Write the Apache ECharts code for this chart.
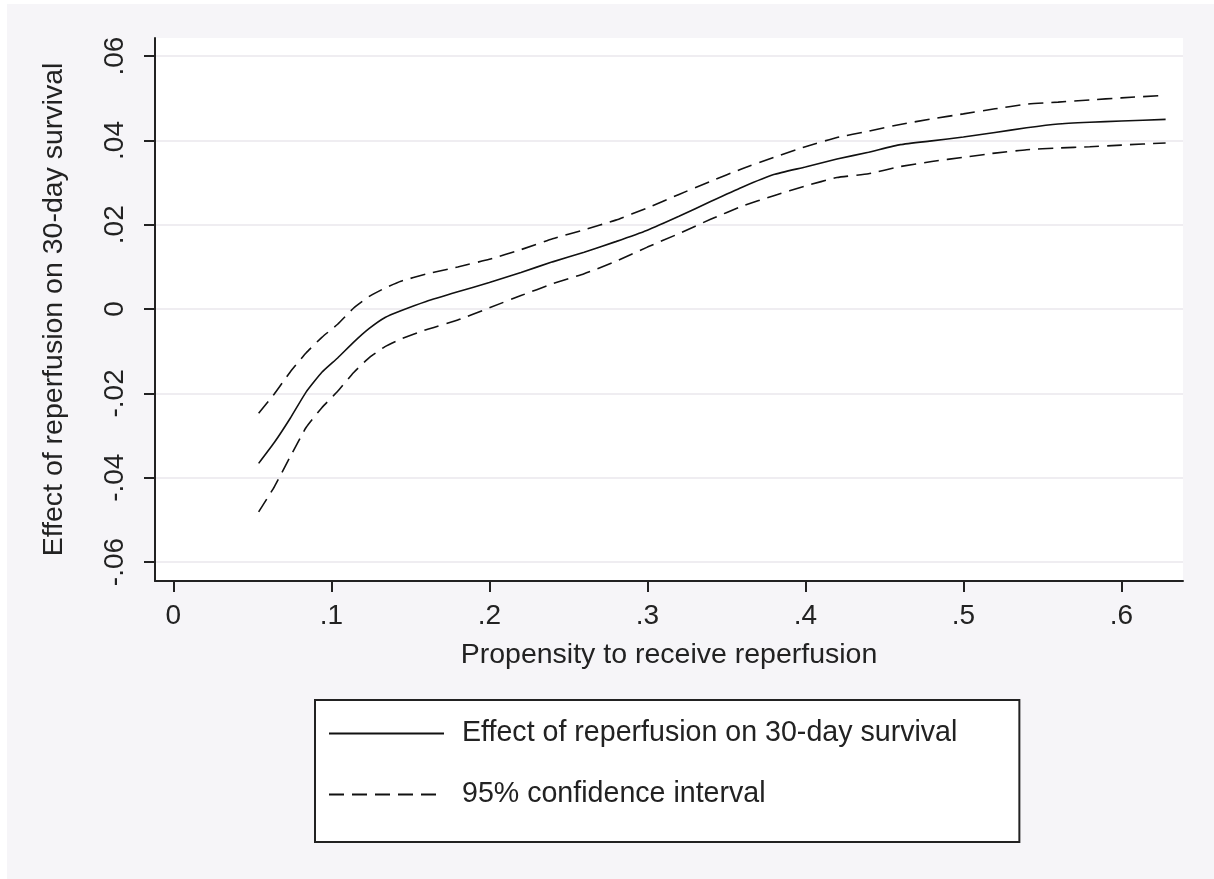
<!DOCTYPE html>
<html>
<head>
<meta charset="utf-8">
<script src="https://cdn.jsdelivr.net/npm/echarts@6/dist/echarts.min.js"></script>
<style>
html,body{margin:0;padding:0;background:#ffffff;}
#chart{width:1214px;height:879px;}
</style>
</head>
<body>
<div id="chart"></div>
<script>
// Propensity to receive reperfusion (x)
const xValues = [0.054, 0.064, 0.074, 0.084, 0.094, 0.104, 0.114, 0.124, 0.134, 0.144,
  0.16, 0.18, 0.2, 0.22, 0.24, 0.26, 0.28, 0.3, 0.32, 0.34, 0.36, 0.38, 0.4,
  0.42, 0.44, 0.46, 0.48, 0.5, 0.52, 0.54, 0.56, 0.58, 0.6, 0.628];
// Effect estimate
const effect = [-0.0366, -0.0316, -0.0259, -0.0197, -0.0150, -0.0116, -0.0079, -0.0046, -0.0020, -0.0004,
  0.0018, 0.0041, 0.0063, 0.0087, 0.0112, 0.0135, 0.0160, 0.0187, 0.0220, 0.0255, 0.0289, 0.0319, 0.0337,
  0.0356, 0.0372, 0.0390, 0.0399, 0.0408, 0.0419, 0.0430, 0.0439, 0.0443, 0.0446, 0.0450];
// Upper 95% CI
const upperCI = [-0.0247, -0.0201, -0.0149, -0.0104, -0.0067, -0.0036, 0.0002, 0.0030, 0.0050, 0.0066,
  0.0083, 0.0100, 0.0118, 0.0141, 0.0167, 0.0188, 0.0211, 0.0240, 0.0272, 0.0303, 0.0333, 0.0360, 0.0385,
  0.0407, 0.0422, 0.0438, 0.0451, 0.0463, 0.0475, 0.0486, 0.0491, 0.0496, 0.0501, 0.0507];
// Lower 95% CI
const lowerCI = [-0.0481, -0.0421, -0.0350, -0.0281, -0.0234, -0.0195, -0.0151, -0.0115, -0.0089, -0.0071,
  -0.0049, -0.0026, 0.0003, 0.0032, 0.0060, 0.0084, 0.0113, 0.0147, 0.0179, 0.0213, 0.0244, 0.0269, 0.0292,
  0.0312, 0.0321, 0.0338, 0.0350, 0.0360, 0.0370, 0.0378, 0.0382, 0.0385, 0.0389, 0.0394];

const xTicks = [0, 0.1, 0.2, 0.3, 0.4, 0.5, 0.6];
const xTickLabels = ['0', '.1', '.2', '.3', '.4', '.5', '.6'];
const yTicks = [-0.06, -0.04, -0.02, 0, 0.02, 0.04, 0.06];
const yTickLabels = ['-.06', '-.04', '-.02', '0', '.02', '.04', '.06'];

const xTitle = 'Propensity to receive reperfusion';
const yTitle = 'Effect of reperfusion on 30-day survival';
const nameEffect = 'Effect of reperfusion on 30-day survival';
const nameCI = '95% confidence interval';

function pairs(xs, ys) { return xs.map((x, i) => [x, ys[i]]); }
function labelFor(ticks, labels) {
  return v => {
    for (let i = 0; i < ticks.length; i++) {
      if (Math.abs(ticks[i] - v) < 1e-9) return labels[i];
    }
    return '';
  };
}

const FONT = 'Liberation Sans, Arial, sans-serif';
const TXT = '#222222';
const AX = '#222222';
const LINE = '#111111';

const chart = echarts.init(document.getElementById('chart'), null, {renderer: 'canvas'});
chart.setOption({
  animation: false,
  backgroundColor: '#ffffff',
  graphic: [{
    type: 'rect', z: -100, silent: true,
    shape: {x: 7, y: 4, width: 1207, height: 875},
    style: {fill: '#f6f5f8'}
  }],
  grid: {
    left: 155, right: 31, top: 38, bottom: 298,
    show: true, backgroundColor: '#ffffff', borderWidth: 0
  },
  xAxis: {
    type: 'value',
    min: -0.0116, max: 0.639,
    name: xTitle,
    nameLocation: 'middle',
    nameGap: 60,
    nameTextStyle: {fontFamily: FONT, fontSize: 28.5, color: TXT},
    axisLine: {show: true, onZero: false, lineStyle: {color: AX, width: 2}},
    axisTick: {show: true, length: 11, lineStyle: {color: AX, width: 2}, customValues: xTicks},
    axisLabel: {
      show: true, customValues: xTicks,
      formatter: labelFor(xTicks, xTickLabels),
      fontFamily: FONT, fontSize: 28, color: TXT, margin: 21
    },
    splitLine: {show: false}
  },
  yAxis: {
    type: 'value',
    min: -0.0645, max: 0.0643,
    name: yTitle,
    nameLocation: 'middle',
    nameGap: 86,
    nameTextStyle: {fontFamily: FONT, fontSize: 28.5, color: TXT},
    axisLine: {show: true, onZero: false, lineStyle: {color: AX, width: 2}},
    axisTick: {show: true, length: 11, lineStyle: {color: AX, width: 2}, customValues: yTicks},
    axisLabel: {
      show: true, customValues: yTicks, rotate: 90,
      formatter: labelFor(yTicks, yTickLabels),
      fontFamily: FONT, fontSize: 28, color: TXT, margin: 26
    },
    splitLine: {show: true, lineStyle: {color: '#efedf1', width: 2}}
  },
  legend: {
    orient: 'vertical',
    left: 315, top: 700,
    padding: [19, 62, 33, 13],
    itemWidth: 115, itemHeight: 28, itemGap: 32,
    borderColor: '#222222', borderWidth: 2,
    backgroundColor: '#ffffff',
    itemStyle: {color: 'rgba(0,0,0,0)', borderColor: 'rgba(0,0,0,0)', borderWidth: 0},
    textStyle: {fontFamily: FONT, fontSize: 28.6, color: TXT, lineHeight: 28, padding: [0, 0, 0, 13]},
    data: [nameEffect, nameCI]
  },
  series: [
    {
      name: nameEffect, type: 'line', data: pairs(xValues, effect),
      symbol: 'none', showSymbol: false, smooth: 0.15,
      itemStyle: {color: LINE},
      lineStyle: {color: LINE, width: 1.6, type: 'solid'}
    },
    {
      name: nameCI, type: 'line', data: pairs(xValues, upperCI),
      symbol: 'none', showSymbol: false, smooth: 0.15,
      itemStyle: {color: LINE},
      lineStyle: {color: LINE, width: 1.6, type: [15, 8]}
    },
    {
      name: nameCI, type: 'line', data: pairs(xValues, lowerCI),
      symbol: 'none', showSymbol: false, smooth: 0.15,
      itemStyle: {color: LINE},
      lineStyle: {color: LINE, width: 1.6, type: [15, 8]}
    }
  ]
});
</script>
</body>
</html>
